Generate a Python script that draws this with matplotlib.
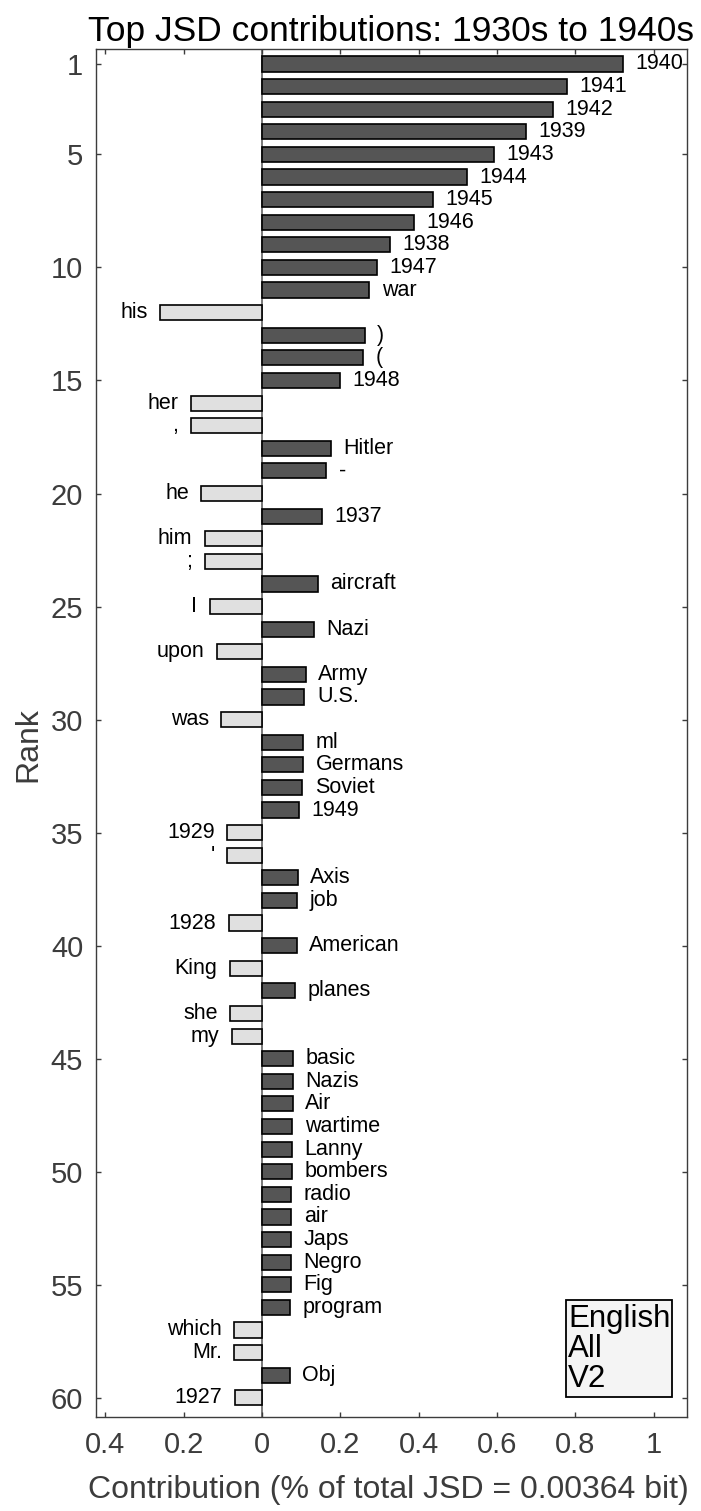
import numpy as np
import matplotlib
matplotlib.use('Agg')
import matplotlib.pyplot as plt
from matplotlib.patches import Rectangle

plt.rcParams['font.family'] = ['Liberation Sans', 'DejaVu Sans']

# Data: words ranked by contribution to JSD (negative = more in 1930s)
words = ['1940', '1941', '1942', '1939', '1943', '1944', '1945', '1946', '1938', '1947',
         'war', 'his', ')', '(', '1948', 'her', ',', 'Hitler', '-', 'he',
         '1937', 'him', ';', 'aircraft', 'I', 'Nazi', 'upon', 'Army', 'U.S.', 'was',
         'ml', 'Germans', 'Soviet', '1949', '1929', "'", 'Axis', 'job', '1928', 'American',
         'King', 'planes', 'she', 'my', 'basic', 'Nazis', 'Air', 'wartime', 'Lanny', 'bombers',
         'radio', 'air', 'Japs', 'Negro', 'Fig', 'program', 'which', 'Mr.', 'Obj', '1927']
contrib = [0.921, 0.778, 0.742, 0.673, 0.593, 0.523, 0.436, 0.388, 0.327, 0.294,
           0.274, -0.260, 0.262, 0.258, 0.198, -0.182, -0.182, 0.175, 0.164, -0.155,
           0.153, -0.147, -0.147, 0.142, -0.134, 0.132, -0.115, 0.111, 0.108, -0.104,
           0.105, 0.105, 0.102, 0.094, -0.0895, -0.0895, 0.091, 0.090, -0.085, 0.088,
           -0.083, 0.085, -0.081, -0.077, 0.079, 0.079, 0.078, 0.077, 0.076, 0.076,
           0.075, 0.075, 0.074, 0.074, 0.073, 0.072, -0.071, -0.071, 0.070, -0.069]
ranks = np.arange(1, len(words) + 1)
ytick_vals = [1, 5, 10, 15, 20, 25, 30, 35, 40, 45, 50, 55, 60]
xtick_vals = [-0.4, -0.2, 0, 0.2, 0.4, 0.6, 0.8, 1.0]
xtick_labels = ['0.4', '0.2', '0', '0.2', '0.4', '0.6', '0.8', '1']
box_lines = ['English', 'All', 'V2']

W, H = 701, 1511
fig = plt.figure(figsize=(W / 100, H / 100), dpi=100)
ax = fig.add_axes([95.7 / W, 1 - 1417 / H, (687 - 95.7) / W, (1417 - 49.3) / H])

axcol = '#3c3c3c'
ax.axvline(0, color='#555555', linewidth=1.1, zorder=1)
colors = ['#555555' if v > 0 else '#e0e0e0' for v in contrib]
ax.barh(ranks, contrib, height=0.67, color=colors, edgecolor='black', linewidth=1.2, zorder=2)

for r, v, w in zip(ranks, contrib, words):
    if v > 0:
        ax.annotate(w, (v, r), xytext=(9, 0), textcoords='offset points',
                    ha='left', va='center', fontsize=15.5, color='black')
    else:
        ax.annotate(w, (v, r), xytext=(-9, 0), textcoords='offset points',
                    ha='right', va='center', fontsize=15.5, color='black')

ax.set_xlim(-0.425, 1.085)
ax.set_ylim(60.85, 0.35)
ax.set_xticks(xtick_vals)
ax.set_xticklabels(xtick_labels)
ax.set_yticks(ytick_vals)
ax.tick_params(axis='both', direction='in', length=3.3, width=1.0, colors=axcol,
               labelsize=21, top=True, right=True)
ax.tick_params(axis='x', pad=10)
ax.tick_params(axis='y', pad=9)
for s in ax.spines.values():
    s.set_color(axcol)
    s.set_linewidth(1.0)

ax.set_title('Top JSD contributions: 1930s to 1940s', fontsize=25.5, color='black', pad=6.0)
ax.set_xlabel('Contribution (% of total JSD = 0.00364 bit)', fontsize=23, color=axcol)
ax.xaxis.set_label_coords(0.495, -0.0534)
ax.xaxis.label.set_va('center')
ax.set_ylabel('Rank', fontsize=23, color=axcol)
ax.yaxis.set_label_coords(-0.1145, 0.492)
ax.yaxis.label.set_va('center')

# info box in lower right
bx0, bx1 = 0.795, 0.9747
by0, by1 = 0.0146, 0.0855
ax.add_patch(Rectangle((bx0, by0), bx1 - bx0, by1 - by0, transform=ax.transAxes,
                       facecolor='#f4f4f4', edgecolor='black', linewidth=1.3, zorder=5))
ax.text(bx0 + 0.004, (by0 + by1) / 2, '\n'.join(box_lines), transform=ax.transAxes,
        ha='left', va='center', fontsize=22.5, linespacing=1.0, color='black', zorder=6)

fig.savefig('out.png', dpi=100)
